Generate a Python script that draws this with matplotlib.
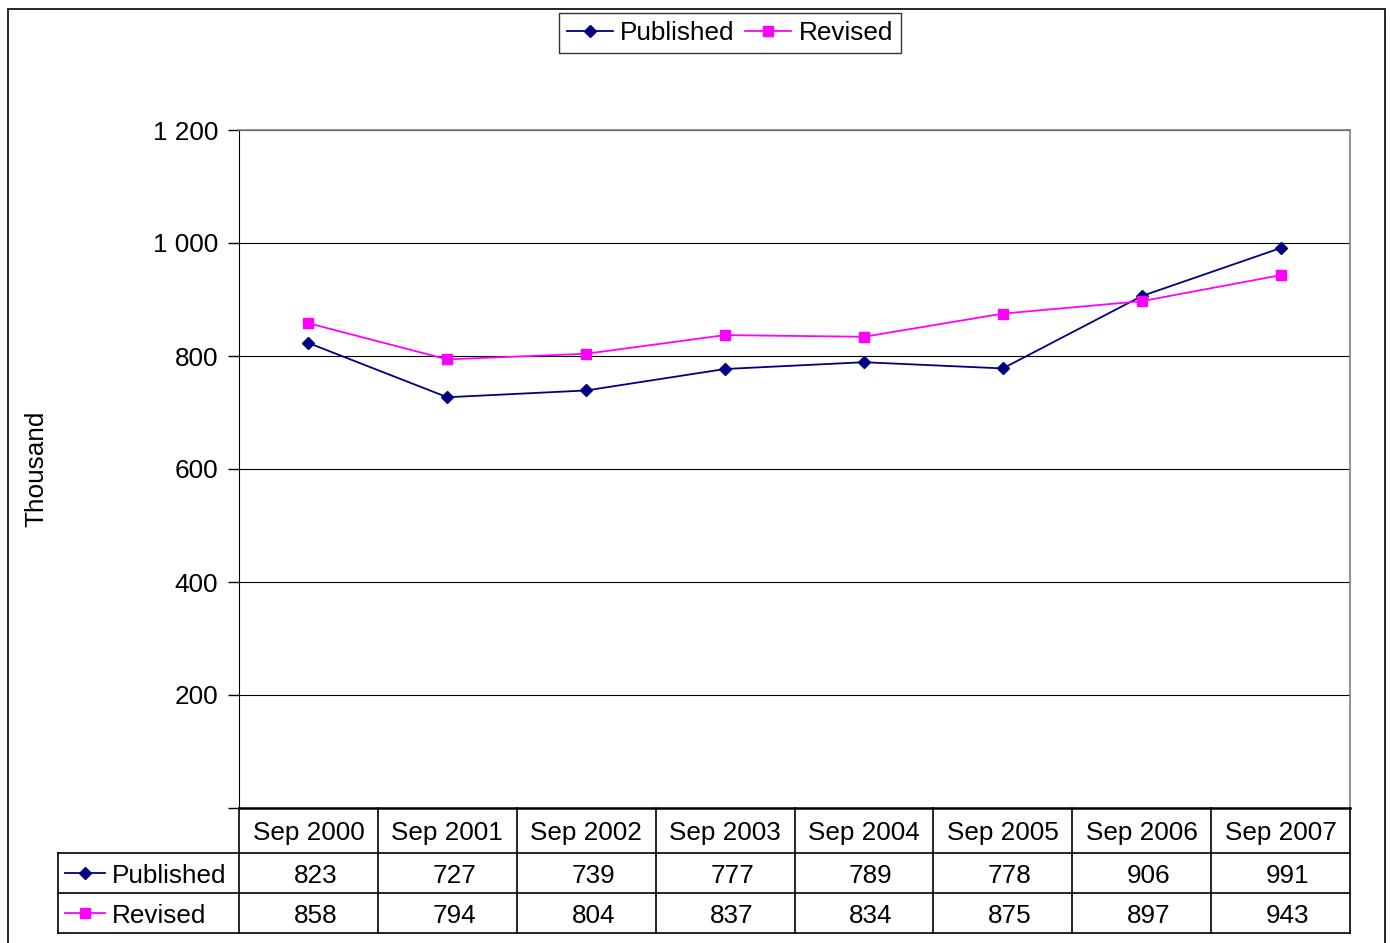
import matplotlib
matplotlib.use("Agg")
import matplotlib.pyplot as plt
from matplotlib.lines import Line2D
from matplotlib.patches import Rectangle
import matplotlib.transforms as mtransforms

plt.rcParams['font.family'] = ['Liberation Sans', 'DejaVu Sans']

categories = ["Sep 2000", "Sep 2001", "Sep 2002", "Sep 2003", "Sep 2004", "Sep 2005", "Sep 2006", "Sep 2007"]
published = [823, 727, 739, 777, 789, 778, 906, 991]
revised = [858, 794, 804, 837, 834, 875, 897, 943]
yticks = [0, 200, 400, 600, 800, 1000, 1200]
ytick_labels = ["", "200", "400", "600", "800", "1 000", "1 200"]

W, H = 1390, 943
fig = plt.figure(figsize=(W / 100, H / 100), dpi=100)

# plot area in pixels
L, R, T, B = 239, 1350, 130, 808
ax = fig.add_axes([L / W, 1 - B / H, (R - L) / W, (B - T) / H])

PUB_C = "#000080"
REV_C = "#FF00FF"
FS = 18.8

x = list(range(len(categories)))
ax.plot(x, published, color=PUB_C, marker="D", markersize=6, lw=1.3, zorder=3)
ax.plot(x, revised, color=REV_C, marker="s", markersize=7.5, lw=1.3, zorder=3)

ax.set_xlim(-0.5, len(categories) - 0.5)
ax.set_ylim(0, 1200)
ax.set_yticks(yticks)
ax.set_yticklabels(ytick_labels, fontsize=FS)
ax.tick_params(axis="y", length=8, width=1, pad=7, color="black")
ax.set_xticks([])
ax.grid(axis="y", color="#000000", lw=0.8, zorder=0)
ax.set_axisbelow(True)
for s in ["top", "right"]:
    ax.spines[s].set_color("#808080")
    ax.spines[s].set_linewidth(1.2)
ax.spines["left"].set_color("black")
ax.spines["bottom"].set_color("black")
ax.spines["bottom"].set_linewidth(1.8)

fig.text(36 / W, 1 - 469 / H, "Thousand", rotation=90, fontsize=FS, ha="center", va="center")

# table
tr = mtransforms.blended_transform_factory(ax.transData, ax.transAxes)
def yf(py):
    return (B - py) / (B - T)
y_hdr, y_r1, y_r2 = yf(853), yf(893), yf(933)
unit = (R - L) / len(categories)
def px2x(px):
    return -0.5 + (px - L) / unit
x_left = px2x(58)
x_right = len(categories) - 0.5

def line(xs, ys, lw=1.2, c="black"):
    ax.add_line(Line2D(xs, ys, transform=tr, color=c, lw=lw, clip_on=False))

for yy in [y_hdr, y_r1, y_r2]:
    line([x_left, x_right], [yy, yy])
line([x_left, x_left], [y_hdr, y_r2])
for i in range(len(categories) + 1):
    line([i - 0.5, i - 0.5], [0, y_r2])

dy = yf(B + 3)  # small downward shift for text inside cells
dx = 7 / unit   # numbers sit slightly right of the column centre
for i, c in enumerate(categories):
    ax.text(i, (0 + y_hdr) / 2 + dy * 0.7, c, transform=tr, ha="center", va="center", fontsize=FS, clip_on=False)
    ax.text(i + dx, (y_hdr + y_r1) / 2 + dy, f"{published[i]}", transform=tr, ha="center", va="center", fontsize=FS, clip_on=False)
    ax.text(i + dx, (y_r1 + y_r2) / 2 + dy, f"{revised[i]}", transform=tr, ha="center", va="center", fontsize=FS, clip_on=False)

# row labels with legend keys
for (yy0, yy1), name, col, mk, ms in [((y_hdr, y_r1), "Published", PUB_C, "D", 6),
                                      ((y_r1, y_r2), "Revised", REV_C, "s", 7.5)]:
    ym = (yy0 + yy1) / 2
    ax.add_line(Line2D([px2x(65), px2x(105)], [ym, ym], transform=tr, color=col, lw=1.3, clip_on=False))
    ax.add_line(Line2D([px2x(85)], [ym], transform=tr, color=col, marker=mk, markersize=ms, clip_on=False))
    ax.text(px2x(112), ym + dy, name, transform=tr, ha="left", va="center", fontsize=FS, clip_on=False)

# legend
handles = [Line2D([], [], color=PUB_C, marker="D", markersize=6, lw=1.3),
           Line2D([], [], color=REV_C, marker="s", markersize=7.5, lw=1.3)]
leg = fig.legend(handles, ["Published", "Revised"], loc="center", bbox_to_anchor=(730 / W, 1 - 33 / H),
                 ncol=2, fontsize=FS, frameon=True, fancybox=False, edgecolor="black",
                 handlelength=1.75, handletextpad=0.3, columnspacing=0.4, borderpad=0.3, borderaxespad=0)
leg.get_frame().set_linewidth(1.0)

# outer frame
fig.patches.append(Rectangle((8 / W, -0.01), (1385 - 8) / W, 1 - 9 / H + 0.01, transform=fig.transFigure,
                             fill=False, edgecolor="black", lw=1.2))

fig.savefig("out.png", dpi=100)
